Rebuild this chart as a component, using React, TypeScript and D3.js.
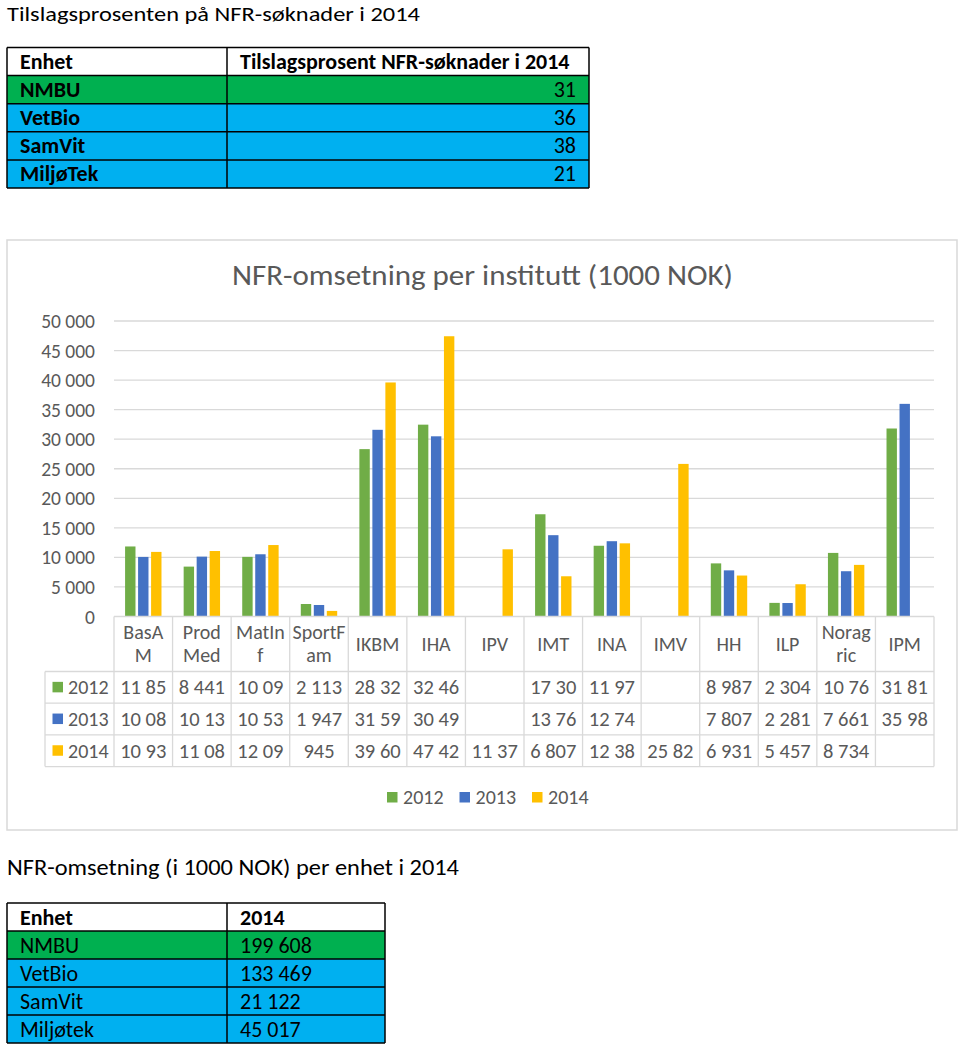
import React from "react";
import * as d3 from "d3";

const FONT = "Carlito, Lato, 'Open Sans', sans-serif";

// Top table
const topHeader = ["Enhet", "Tilslagsprosent NFR-søknader i 2014"];
const topUnits = ["NMBU", "VetBio", "SamVit", "MiljøTek"];
const topValues = [31, 36, 38, 21];

// Bottom table
const botHeader = ["Enhet", "2014"];
const botUnits = ["NMBU", "VetBio", "SamVit", "Miljøtek"];
const botValues = [199608, 133469, 21122, 45017];

// Chart
const categories = ["BasAM", "ProdMed", "MatInf", "SportFam", "IKBM", "IHA", "IPV", "IMT", "INA", "IMV", "HH", "ILP", "Noragric", "IPM"];
const categoryLines: string[][] = [["BasA", "M"], ["Prod", "Med"], ["MatIn", "f"], ["SportF", "am"], ["IKBM"], ["IHA"], ["IPV"], ["IMT"], ["INA"], ["IMV"], ["HH"], ["ILP"], ["Norag", "ric"], ["IPM"]];
const seriesNames = ["2012", "2013", "2014"];
const values2012: (number | null)[] = [11850, 8441, 10090, 2113, 28320, 32460, null, 17300, 11970, null, 8987, 2304, 10760, 31810];
const values2013: (number | null)[] = [10080, 10130, 10530, 1947, 31590, 30490, null, 13760, 12740, null, 7807, 2281, 7661, 35980];
const values2014: (number | null)[] = [10930, 11080, 12090, 945, 39600, 47420, 11370, 6807, 12380, 25820, 6931, 5457, 8734, null];
const seriesValues = [values2012, values2013, values2014];
const seriesColors = ["#70ad47", "#4472c4", "#ffc000"];
const yTicks = [0, 5000, 10000, 15000, 20000, 25000, 30000, 35000, 40000, 45000, 50000];

const fmt = (v: number) => d3.format(",")(v).replace(/,/g, " ");
const cellText = (v: number | null) => {
  if (v == null) return "";
  const s = fmt(v);
  return s.length > 5 ? s.slice(0, 5) : s;
};

function Table({ x, y, colX, widths, rowH, header, units, vals, colors, boldUnits, valueAlign }: any) {
  const totalW = widths[0] + widths[1];
  const fs = 22;
  const nRows = units.length + 1;
  return (
    <g>
      {[header, ...units.map((u: string, i: number) => [u, vals[i]])].map((row: any[], ri: number) => {
        const ry = y + ri * rowH;
        const fill = ri === 0 ? "#ffffff" : colors[ri - 1];
        const right = valueAlign === "right" && ri > 0;
        return (
          <g key={ri}>
            <rect x={x} y={ry} width={totalW} height={rowH} fill={fill} />
            <text x={x + 13} y={ry + rowH / 2 + 7.5} fontFamily={FONT} fontSize={fs}
              fontWeight={ri === 0 || boldUnits ? 700 : 400} fill="#000">{row[0]}</text>
            <text x={right ? x + totalW - 13 : colX + 13} y={ry + rowH / 2 + 7.5}
              textAnchor={right ? "end" : "start"} fontFamily={FONT} fontSize={fs}
              fontWeight={ri === 0 ? 700 : 400} fill="#000">{ri === 0 ? row[1] : (valueAlign === "right" ? String(row[1]) : fmt(row[1]))}</text>
          </g>
        );
      })}
      {d3.range(nRows + 1).map((i) => (
        <line key={i} x1={x} x2={x + totalW} y1={y + rowH * i} y2={y + rowH * i} stroke="#000" strokeWidth={1.5} />
      ))}
      {[x, colX, x + totalW].map((lx, i) => (
        <line key={"v" + i} x1={lx} x2={lx} y1={y} y2={y + rowH * nRows} stroke="#000" strokeWidth={1.5} />
      ))}
    </g>
  );
}

export default function App() {
  const plotL = 114, plotR = 934, plotT = 321, plotB = 616.5;
  const x = d3.scaleBand<string>().domain(categories).range([plotL, plotR]).padding(0);
  const y = d3.scaleLinear().domain([0, 50000]).range([plotB, plotT]);
  const inner = d3.scaleBand<string>().domain(seriesNames).range([-19.5, 19.5]).paddingInner(0.2).paddingOuter(0.1);
  const tableL = 45;
  const headerB = 671.5;
  const rowH = 31.7;
  const tableB = headerB + rowH * 3;
  const grey = "#595959";
  const lineC = "#d9d9d9";
  const green = "#00b050", blue = "#00b0f0";

  return (
    <svg width={960} height={1050} style={{ position: "absolute", left: 0, top: 0 }}>
      <rect width={960} height={1050} fill="#fff" />
      <text x={7} y={21} fontFamily={FONT} fontSize={21} textLength={413} lengthAdjust="spacingAndGlyphs" fill="#000">Tilslagsprosenten på NFR-søknader i 2014</text>
      <Table x={7} y={47.5} colX={227} widths={[220, 362]} rowH={28.1} header={topHeader} units={topUnits}
        vals={topValues} colors={[green, blue, blue, blue]} boldUnits={true} valueAlign="right" />

      {/* Chart box */}
      <rect x={7} y={240} width={950} height={590} fill="#fff" stroke={lineC} strokeWidth={1.5} />
      <text x={232} y={285} fontFamily={FONT} fontSize={28} textLength={501} lengthAdjust="spacingAndGlyphs" fill={grey}>NFR-omsetning per institutt (1000 NOK)</text>

      {yTicks.map((t) => (
        <g key={t}>
          {t > 0 && <line x1={plotL} x2={plotR} y1={y(t)} y2={y(t)} stroke={lineC} strokeWidth={1.3} />}
          <text x={95} y={y(t) + 7} textAnchor="end" fontFamily={FONT} fontSize={19.5} fill={grey}>{fmt(t)}</text>
        </g>
      ))}

      {seriesValues.map((vals, si) =>
        vals.map((v, ci) =>
          v == null ? null : (
            <rect key={`${si}-${ci}`} x={(x(categories[ci]) as number) + x.bandwidth() / 2 + (inner(seriesNames[si]) as number)}
              y={y(v)} width={inner.bandwidth()} height={plotB - y(v)} fill={seriesColors[si]} />
          )
        )
      )}

      {/* Data table */}
      <line x1={plotL} x2={plotR} y1={plotB} y2={plotB} stroke={lineC} strokeWidth={1.3} />
      {[headerB, headerB + rowH, headerB + rowH * 2, tableB].map((ly, i) => (
        <line key={i} x1={tableL} x2={plotR} y1={ly} y2={ly} stroke={lineC} strokeWidth={1.3} />
      ))}
      <line x1={tableL} x2={tableL} y1={headerB} y2={tableB} stroke={lineC} strokeWidth={1.3} />
      {categories.map((c) => (
        <line key={c} x1={x(c) as number} x2={x(c) as number} y1={plotB} y2={tableB} stroke={lineC} strokeWidth={1.3} />
      ))}
      <line x1={plotR} x2={plotR} y1={plotB} y2={tableB} stroke={lineC} strokeWidth={1.3} />

      {categories.map((c, ci) => {
        const lines = categoryLines[ci];
        const cx = (x(c) as number) + x.bandwidth() / 2;
        const midY = (plotB + headerB) / 2;
        return (
          <text key={c} textAnchor="middle" fontFamily={FONT} fontSize={20} fill={grey}>
            {lines.map((l, li) => (
              <tspan key={li} x={cx} y={midY + 6.5 + (li - (lines.length - 1) / 2) * 22.7}>{l}</tspan>
            ))}
          </text>
        );
      })}

      {seriesValues.map((vals, si) => {
        const ry = headerB + rowH * si;
        return (
          <g key={si}>
            <rect x={52.5} y={ry + rowH / 2 - 5.5} width={10.5} height={10.5} fill={seriesColors[si]} />
            <text x={68} y={ry + rowH / 2 + 7} fontFamily={FONT} fontSize={20} fill={grey}>{seriesNames[si]}</text>
            {vals.map((v, ci) => (
              <text key={ci} x={(x(categories[ci]) as number) + x.bandwidth() / 2} y={ry + rowH / 2 + 7}
                textAnchor="middle" fontFamily={FONT} fontSize={20.5} fill={grey}>{cellText(v)}</text>
            ))}
          </g>
        );
      })}

      {/* Legend */}
      {seriesNames.map((s, si) => {
        const lx = 387 + si * 72.5;
        return (
          <g key={s}>
            <rect x={lx} y={792} width={10.5} height={10.5} fill={seriesColors[si]} />
            <text x={lx + 16} y={804} fontFamily={FONT} fontSize={20} fill={grey}>{s}</text>
          </g>
        );
      })}

      <text x={7} y={875} fontFamily={FONT} fontSize={21.5} textLength={452} lengthAdjust="spacingAndGlyphs" fill="#000">NFR-omsetning (i 1000 NOK) per enhet i 2014</text>
      <Table x={7} y={903} colX={227} widths={[220, 158]} rowH={28} header={botHeader} units={botUnits}
        vals={botValues} colors={[green, blue, blue, blue]} boldUnits={false} valueAlign="left" />
    </svg>
  );
}
